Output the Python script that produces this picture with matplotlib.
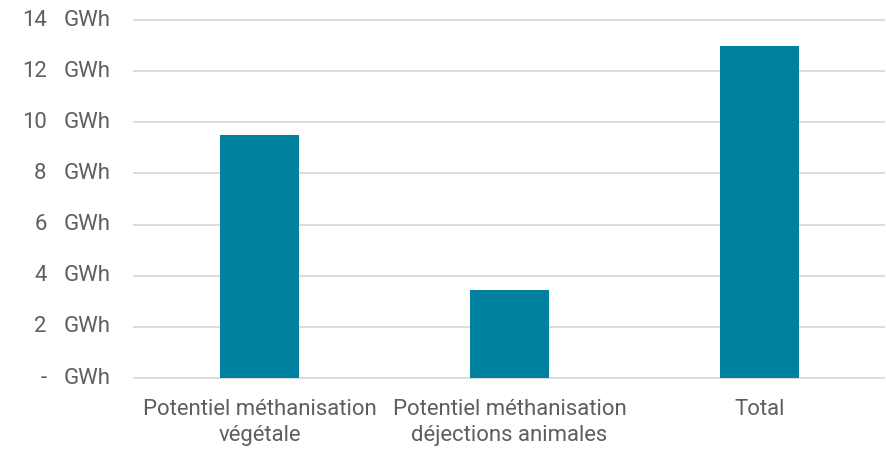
import numpy as np
import matplotlib.pyplot as plt
import matplotlib.transforms as mtransforms

categories = ["Potentiel méthanisation\nvégétale",
              "Potentiel méthanisation\ndéjections animales",
              "Total"]
values = [9.5, 3.45, 13.0]
yticks = [0, 2, 4, 6, 8, 10, 12, 14]

plt.rcParams['font.family'] = ['Roboto', 'DejaVu Sans']
grey = '#5E5E5E'
fs = 15.9

fig = plt.figure(figsize=(8.87, 4.51), dpi=100)
ax = fig.add_axes([134.5/887, 73/451, 750/887, 358/451])

x = np.arange(len(categories))
ax.bar(x, values, width=0.316, color='#00819F', zorder=3)
ax.set_xlim(-0.5, len(categories) - 0.5)
ax.set_ylim(0, 14)

ax.set_yticks(yticks)
ax.yaxis.grid(True, color='#D9D9D9', linewidth=1.3, zorder=0)
for gl in ax.get_ygridlines():
    gl.set_clip_on(False)
ax.tick_params(axis='y', length=0, labelleft=False)
ax.tick_params(axis='x', length=0, pad=15, labelsize=fs, labelcolor=grey)
ax.set_xticks(x)
ax.set_xticklabels(categories, linespacing=1.35)
for s in ax.spines.values():
    s.set_visible(False)

# accounting-style labels: number right aligned, unit left aligned
tr = mtransforms.blended_transform_factory(ax.transAxes, ax.transData)
for t in yticks:
    num = '-' if t == 0 else str(t)
    ax.text(-0.117, t, num, transform=tr, ha='right', va='center',
            fontsize=fs, color=grey)
    ax.text(-0.094, t, 'GWh', transform=tr, ha='left', va='center',
            fontsize=fs, color=grey)

fig.savefig('out.png', dpi=100)
